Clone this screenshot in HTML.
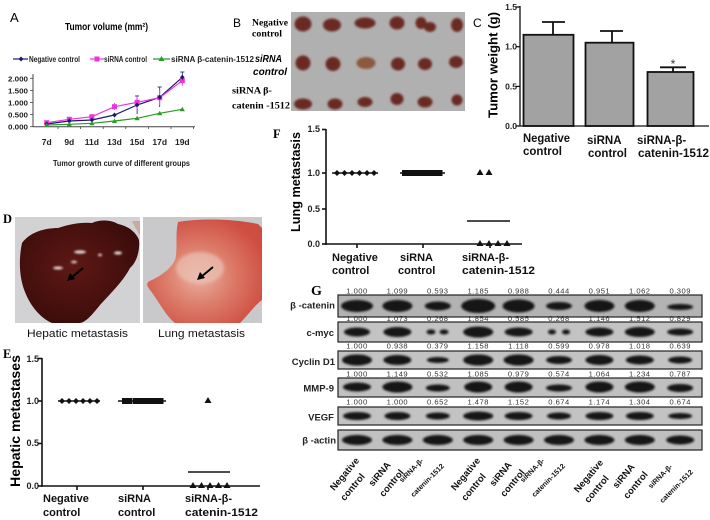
<!DOCTYPE html>
<html><head><meta charset="utf-8"><style>
html,body{margin:0;padding:0;background:#fff;}
svg{display:block;}
text{font-family:"Liberation Sans",Arial,sans-serif;}
.b{font-weight:bold;}
.sf{font-family:"Liberation Serif","Times New Roman",serif;font-weight:bold;}
</style></head><body>
<svg width="710" height="520" viewBox="0 0 710 520" xmlns="http://www.w3.org/2000/svg">
<defs>
<filter id="bl" x="-30%" y="-60%" width="160%" height="220%"><feGaussianBlur stdDeviation="1.1"/></filter>
<filter id="bl2" x="-30%" y="-30%" width="160%" height="160%"><feGaussianBlur stdDeviation="1.6"/></filter>
<radialGradient id="liv" cx="45%" cy="45%" r="60%"><stop offset="0" stop-color="#5e1814"/><stop offset="1" stop-color="#3a0c0a"/></radialGradient>
<radialGradient id="lun" cx="45%" cy="55%" r="60%"><stop offset="0" stop-color="#e9b0a0"/><stop offset="0.5" stop-color="#dc7a68"/><stop offset="1" stop-color="#cf4e42"/></radialGradient>
</defs>
<rect width="710" height="520" fill="#fff"/>

<!-- ========== Panel A ========== -->
<text x="10" y="22" font-size="13">A</text>
<text x="65" y="30" font-size="10" class="b" textLength="83" lengthAdjust="spacingAndGlyphs">Tumor volume (mm²)</text>
<!-- legend -->
<line x1="13" y1="59" x2="28" y2="59" stroke="#1a1a70" stroke-width="1.2"/>
<path d="M21,56.5 L23.5,59 L21,61.5 L18.5,59Z" fill="#1a1a70"/>
<text x="29" y="62" font-size="8" class="b" textLength="51" lengthAdjust="spacingAndGlyphs" fill="#222">Negative control</text>
<line x1="90" y1="59" x2="104" y2="59" stroke="#ee33dd" stroke-width="1.2"/>
<rect x="94.5" y="56.5" width="5" height="5" fill="#ee33dd"/>
<text x="104" y="62" font-size="8" class="b" textLength="43" lengthAdjust="spacingAndGlyphs" fill="#222">siRNA control</text>
<line x1="153" y1="59" x2="170" y2="59" stroke="#2a9a2a" stroke-width="1.2"/>
<path d="M161.5,56 L164.5,61 L158.5,61Z" fill="#2a9a2a"/>
<text x="171" y="62" font-size="8" class="b" textLength="83" lengthAdjust="spacingAndGlyphs" fill="#222">siRNA β-catenin-1512</text>
<!-- axes -->
<line x1="33" y1="74" x2="33" y2="127" stroke="#444" stroke-width="1"/>
<line x1="33" y1="126.7" x2="195" y2="126.7" stroke="#444" stroke-width="1"/>
<g stroke="#444" stroke-width="0.8">
<line x1="30" y1="78.3" x2="33" y2="78.3"/><line x1="30" y1="90.4" x2="33" y2="90.4"/><line x1="30" y1="102.5" x2="33" y2="102.5"/><line x1="30" y1="114.6" x2="33" y2="114.6"/><line x1="30" y1="126.7" x2="33" y2="126.7"/>
<line x1="58" y1="126.7" x2="58" y2="129"/><line x1="80.6" y1="126.7" x2="80.6" y2="129"/><line x1="103.2" y1="126.7" x2="103.2" y2="129"/><line x1="125.8" y1="126.7" x2="125.8" y2="129"/><line x1="148.4" y1="126.7" x2="148.4" y2="129"/><line x1="171" y1="126.7" x2="171" y2="129"/><line x1="193.6" y1="126.7" x2="193.6" y2="129"/>
</g>
<g font-size="7.5" class="b" text-anchor="end" fill="#222">
<text x="28" y="81.3" textLength="20" lengthAdjust="spacingAndGlyphs">2.000</text>
<text x="28" y="93.4" textLength="20" lengthAdjust="spacingAndGlyphs">1.500</text>
<text x="28" y="105.5" textLength="20" lengthAdjust="spacingAndGlyphs">1.000</text>
<text x="28" y="117.6" textLength="20" lengthAdjust="spacingAndGlyphs">0.500</text>
<text x="28" y="129.7" textLength="20" lengthAdjust="spacingAndGlyphs">0.000</text>
</g>
<g font-size="8.5" class="b" text-anchor="middle" fill="#222">
<text x="46.7" y="145">7d</text><text x="69.3" y="145">9d</text><text x="91.9" y="145">11d</text><text x="114.5" y="145">13d</text><text x="137.1" y="145">15d</text><text x="159.7" y="145">17d</text><text x="182.3" y="145">19d</text>
</g>
<text x="53" y="166" font-size="8.5" class="b" textLength="137" lengthAdjust="spacingAndGlyphs" fill="#222">Tumor growth curve of different groups</text>
<!-- error bars -->
<g stroke-width="0.8">
<g stroke="#1a1a70"><line x1="137.1" y1="96" x2="137.1" y2="114"/><line x1="159.7" y1="87" x2="159.7" y2="107"/><line x1="182.3" y1="72" x2="182.3" y2="83"/><line x1="135" y1="96" x2="139" y2="96"/><line x1="157.6" y1="87" x2="161.8" y2="87"/><line x1="180.2" y1="72" x2="184.4" y2="72"/></g>
<g stroke="#ee33dd"><line x1="114.5" y1="103" x2="114.5" y2="110"/><line x1="137.1" y1="95" x2="137.1" y2="109"/><line x1="159.7" y1="90" x2="159.7" y2="105"/><line x1="182.3" y1="76" x2="182.3" y2="86"/></g>
</g>
<!-- series -->
<polyline points="46.7,124 69.3,121 91.9,120 114.5,115 137.1,105 159.7,97.3 182.3,77.3" fill="none" stroke="#1a1a70" stroke-width="1.2"/>
<polyline points="46.7,122.7 69.3,119.3 91.9,116.7 114.5,106.7 137.1,102.3 159.7,97.7 182.3,80.7" fill="none" stroke="#ee33dd" stroke-width="1.2"/>
<polyline points="46.7,125 69.3,124.3 91.9,123.3 114.5,121 137.1,118.3 159.7,113.3 182.3,109.3" fill="none" stroke="#2a9a2a" stroke-width="1.2"/>
<g fill="#ee33dd">
<rect x="44.2" y="120.2" width="5" height="5"/><rect x="66.8" y="116.8" width="5" height="5"/><rect x="89.4" y="114.2" width="5" height="5"/><rect x="112" y="104.2" width="5" height="5"/><rect x="134.6" y="99.8" width="5" height="5"/><rect x="157.2" y="95.2" width="5" height="5"/><rect x="179.8" y="78.2" width="5" height="5"/>
</g>
<g fill="#1a1a70">
<path d="M46.7,121.5 l2.3,2.5 l-2.3,2.5 l-2.3,-2.5Z"/><path d="M69.3,118.5 l2.3,2.5 l-2.3,2.5 l-2.3,-2.5Z"/><path d="M91.9,117.5 l2.3,2.5 l-2.3,2.5 l-2.3,-2.5Z"/><path d="M114.5,112.5 l2.3,2.5 l-2.3,2.5 l-2.3,-2.5Z"/><path d="M137.1,102.5 l2.3,2.5 l-2.3,2.5 l-2.3,-2.5Z"/><path d="M159.7,94.8 l2.3,2.5 l-2.3,2.5 l-2.3,-2.5Z"/><path d="M182.3,74.8 l2.3,2.5 l-2.3,2.5 l-2.3,-2.5Z"/>
</g>
<g fill="#2a9a2a">
<path d="M46.7,122.5 l2.6,4.5 h-5.2Z"/><path d="M69.3,121.8 l2.6,4.5 h-5.2Z"/><path d="M91.9,120.8 l2.6,4.5 h-5.2Z"/><path d="M114.5,118.5 l2.6,4.5 h-5.2Z"/><path d="M137.1,115.8 l2.6,4.5 h-5.2Z"/><path d="M159.7,110.8 l2.6,4.5 h-5.2Z"/><path d="M182.3,106.8 l2.6,4.5 h-5.2Z"/>
</g>

<!-- ========== Panel B ========== -->
<text x="233" y="27" font-size="12">B</text>
<text x="252" y="25.5" font-size="9.7" class="sf" textLength="36" lengthAdjust="spacingAndGlyphs">Negative</text>
<text x="252" y="36.5" font-size="9.7" class="sf" textLength="30" lengthAdjust="spacingAndGlyphs">control</text>
<text x="255" y="62" font-size="10" class="b" font-style="italic" textLength="27" lengthAdjust="spacingAndGlyphs">siRNA</text>
<text x="253" y="75" font-size="10" class="b" font-style="italic" textLength="34" lengthAdjust="spacingAndGlyphs">control</text>
<text x="232" y="93.5" font-size="9.5" class="sf" textLength="40" lengthAdjust="spacingAndGlyphs">siRNA β-</text>
<text x="232" y="108.5" font-size="9.5" class="sf" textLength="58" lengthAdjust="spacingAndGlyphs">catenin -1512</text>
<rect x="291" y="12" width="174" height="99" fill="#b1b0b0"/>
<g fill="#6a2a22" filter="url(#bl)">
<ellipse cx="303" cy="24" rx="8.5" ry="7.5"/><ellipse cx="332" cy="25" rx="9" ry="6.5"/><ellipse cx="365" cy="23" rx="10.5" ry="5.5"/><ellipse cx="397" cy="23" rx="7.5" ry="6.5"/><ellipse cx="421" cy="23" rx="5.5" ry="6"/><ellipse cx="430" cy="27" rx="6" ry="5"/><ellipse cx="457" cy="25" rx="6" ry="7"/>
<ellipse cx="303" cy="63" rx="7.5" ry="7.5"/><ellipse cx="333" cy="64" rx="7.5" ry="7"/><ellipse cx="366" cy="63" rx="9.5" ry="6" fill="#8a5a3e"/><ellipse cx="398" cy="64" rx="7" ry="6.5"/><ellipse cx="425" cy="64" rx="7" ry="6"/><ellipse cx="456" cy="62" rx="7" ry="6"/>
<ellipse cx="303" cy="104" rx="9" ry="5.5"/><ellipse cx="335" cy="104" rx="7.5" ry="5.5"/><ellipse cx="365" cy="102" rx="7.5" ry="5"/><ellipse cx="397" cy="99" rx="6.5" ry="6"/><ellipse cx="425" cy="102" rx="7.5" ry="5.5"/><ellipse cx="457" cy="100" rx="5.5" ry="5.5"/>
</g>

<!-- ========== Panel C ========== -->
<text x="473" y="27" font-size="12">C</text>
<text transform="translate(497.5,65) rotate(-90)" font-size="13" class="b" text-anchor="middle" textLength="106" lengthAdjust="spacingAndGlyphs">Tumor weight (g)</text>
<g font-size="8.5" class="b" text-anchor="end" fill="#222">
<text x="517" y="10">1.5</text><text x="517" y="49.7">1.0</text><text x="517" y="89.4">0.5</text><text x="517" y="129">0.0</text>
</g>
<g stroke="#111" stroke-width="1.3">
<line x1="520" y1="6" x2="520" y2="126.5"/><line x1="520" y1="126" x2="709" y2="126"/>
<line x1="516" y1="7" x2="520" y2="7"/><line x1="516" y1="46.7" x2="520" y2="46.7"/><line x1="516" y1="86.4" x2="520" y2="86.4"/><line x1="516" y1="126" x2="520" y2="126"/>
</g>
<g fill="#a2a2a2" stroke="#111" stroke-width="1.8">
<rect x="523.5" y="34.8" width="50" height="91.2"/><rect x="585.5" y="42.7" width="48" height="83.3"/><rect x="647.5" y="72" width="46" height="54"/>
</g>
<g stroke="#111" stroke-width="1.8">
<line x1="553" y1="34.8" x2="553" y2="22"/><line x1="542" y1="22" x2="565" y2="22"/>
<line x1="612" y1="42.7" x2="612" y2="31"/><line x1="600" y1="31" x2="623" y2="31"/>
<line x1="673" y1="72" x2="673" y2="67.3"/><line x1="660" y1="67.3" x2="686" y2="67.3"/>
</g>
<text x="673" y="68" font-size="12" text-anchor="middle" fill="#333">*</text>
<g font-size="11.5" class="b" fill="#111">
<text x="523" y="142" textLength="47" lengthAdjust="spacingAndGlyphs">Negative</text><text x="523" y="155">control</text>
<text x="587" y="144">siRNA</text><text x="588" y="157">control</text>
<text x="637" y="144">siRNA-β-</text><text x="638" y="157" textLength="71" lengthAdjust="spacingAndGlyphs">catenin-1512</text>
</g>

<!-- ========== Panel D ========== -->
<text x="3" y="223" font-size="12.5" class="sf">D</text>
<rect x="15" y="217" width="125" height="106" fill="#d2d2d5"/>
<path d="M22,243 C30,232 45,228 58,228 C70,224 82,222 92,223 C100,219 112,220 118,224 C128,226 136,232 139,240 C140,250 137,262 130,268 C124,280 112,292 100,305 C92,315 86,322 80,323 L52,323 C40,318 30,305 25,292 C20,280 18,262 22,243 Z" fill="url(#liv)"/>
<path d="M132,221 L140,221 L140,236 C137,230 134,226 132,221Z" fill="#c9a9a0"/>
<g fill="#f4f0f0" filter="url(#bl)" opacity="0.9">
<ellipse cx="80" cy="252" rx="6" ry="1.6"/><ellipse cx="118" cy="253" rx="4" ry="1.6"/><ellipse cx="100" cy="255" rx="2" ry="1.2"/><ellipse cx="58" cy="268" rx="5" ry="1.5"/><ellipse cx="74" cy="262" rx="3" ry="1.2"/>
</g>
<line x1="83" y1="268" x2="71" y2="278" stroke="#000" stroke-width="2"/>
<path d="M67,281 L70,273 L75,279Z" fill="#000"/>
<rect x="143" y="217" width="119" height="106" fill="#c9c9cc"/>
<path d="M178,222 C200,218 235,219 258,224 L262,228 L262,300 C255,305 248,315 240,323 L175,323 C165,315 158,300 150,290 C146,285 146,282 152,280 C160,276 170,270 175,260 C178,250 175,235 178,222 Z" fill="url(#lun)"/>
<ellipse cx="200" cy="268" rx="24" ry="16" fill="#ecc2b4" opacity="0.7" filter="url(#bl2)"/>
<line x1="213" y1="267" x2="201" y2="277" stroke="#000" stroke-width="2"/>
<path d="M197,280 L200,272 L205,278Z" fill="#000"/>
<text x="27" y="337" font-size="11" textLength="101" lengthAdjust="spacingAndGlyphs" fill="#111">Hepatic metastasis</text>
<text x="158" y="337" font-size="11" textLength="87" lengthAdjust="spacingAndGlyphs" fill="#111">Lung metastasis</text>

<!-- ========== Panel E ========== -->
<text x="3" y="358" font-size="12.5" class="sf">E</text>
<text transform="translate(20,421) rotate(-90)" font-size="13.6" class="b" text-anchor="middle" textLength="132" lengthAdjust="spacingAndGlyphs">Hepatic metastases</text>
<g font-size="9" class="b" text-anchor="end" fill="#222">
<text x="39" y="362">1.5</text><text x="39" y="404">1.0</text><text x="39" y="446">0.5</text><text x="39" y="489">0.0</text>
</g>
<g stroke="#111" stroke-width="1.6">
<line x1="42" y1="358" x2="42" y2="486.8"/><line x1="41.2" y1="486" x2="260" y2="486"/>
<line x1="38" y1="358.5" x2="42" y2="358.5"/><line x1="38" y1="401" x2="42" y2="401"/><line x1="38" y1="443.5" x2="42" y2="443.5"/><line x1="38" y1="486" x2="42" y2="486"/>
<line x1="77" y1="486" x2="77" y2="490"/><line x1="143" y1="486" x2="143" y2="490"/><line x1="208" y1="486" x2="208" y2="490"/>
</g>
<g stroke="#111" stroke-width="1.5"><line x1="58" y1="401" x2="100" y2="401"/><line x1="118" y1="401" x2="166" y2="401"/><line x1="188" y1="472" x2="230" y2="472"/></g>
<g fill="#111">
<path d="M62,398 l3,3 l-3,3 l-3,-3Z"/><path d="M69,398 l3,3 l-3,3 l-3,-3Z"/><path d="M76,398 l3,3 l-3,3 l-3,-3Z"/><path d="M83,398 l3,3 l-3,3 l-3,-3Z"/><path d="M90,398 l3,3 l-3,3 l-3,-3Z"/><path d="M97,398 l3,3 l-3,3 l-3,-3Z"/>
<rect x="122" y="398" width="5.5" height="6"/><rect x="127" y="398" width="5.5" height="6"/><rect x="133" y="398" width="5.5" height="6"/><rect x="138" y="398" width="5.5" height="6"/><rect x="143" y="398" width="5.5" height="6"/><rect x="148" y="398" width="5.5" height="6"/><rect x="153" y="398" width="5.5" height="6"/><rect x="158" y="398" width="5.5" height="6"/>
<path d="M208,397 l3.5,6 h-7Z"/>
<path d="M193,482 l3.5,6 h-7Z"/><path d="M201.5,482 l3.5,6 h-7Z"/><path d="M210,482 l3.5,6 h-7Z"/><path d="M218.5,482 l3.5,6 h-7Z"/><path d="M227,482 l3.5,6 h-7Z"/>
</g>
<g font-size="11" class="b" fill="#111">
<text x="43" y="502">Negative</text><text x="43" y="516">control</text>
<text x="118" y="502">siRNA</text><text x="118" y="516">control</text>
<text x="185" y="502">siRNA-β-</text><text x="185" y="516" textLength="73" lengthAdjust="spacingAndGlyphs">catenin-1512</text>
</g>

<!-- ========== Panel F ========== -->
<text x="273" y="138" font-size="12.5" class="sf">F</text>
<text transform="translate(300,182) rotate(-90)" font-size="12.5" class="b" text-anchor="middle" textLength="100" lengthAdjust="spacingAndGlyphs">Lung metastasis</text>
<g font-size="9" class="b" text-anchor="end" fill="#222">
<text x="320" y="132">1.5</text><text x="320" y="176">1.0</text><text x="320" y="212">0.5</text><text x="320" y="247">0.0</text>
</g>
<g stroke="#111" stroke-width="1.6">
<line x1="326" y1="129" x2="326" y2="244.8"/><line x1="325.2" y1="244" x2="522" y2="244"/>
<line x1="322" y1="129.5" x2="326" y2="129.5"/><line x1="322" y1="173" x2="326" y2="173"/><line x1="322" y1="209" x2="326" y2="209"/><line x1="322" y1="244" x2="326" y2="244"/>
<line x1="357" y1="244" x2="357" y2="248"/><line x1="423" y1="244" x2="423" y2="248"/><line x1="490" y1="244" x2="490" y2="248"/>
</g>
<g stroke="#111" stroke-width="1.5"><line x1="332" y1="173" x2="378" y2="173"/><line x1="400" y1="173" x2="445" y2="173"/><line x1="467" y1="221" x2="510" y2="221"/></g>
<g fill="#111">
<path d="M337,170 l3,3 l-3,3 l-3,-3Z"/><path d="M344.5,170 l3,3 l-3,3 l-3,-3Z"/><path d="M352,170 l3,3 l-3,3 l-3,-3Z"/><path d="M359.5,170 l3,3 l-3,3 l-3,-3Z"/><path d="M367,170 l3,3 l-3,3 l-3,-3Z"/><path d="M374,170 l3,3 l-3,3 l-3,-3Z"/>
<rect x="402" y="170" width="5.5" height="6"/><rect x="407" y="170" width="5.5" height="6"/><rect x="412.5" y="170" width="5.5" height="6"/><rect x="418" y="170" width="5.5" height="6"/><rect x="423" y="170" width="5.5" height="6"/><rect x="428" y="170" width="5.5" height="6"/><rect x="433" y="170" width="5.5" height="6"/><rect x="437" y="170" width="5.5" height="6"/>
<path d="M480,169 l3.5,6 h-7Z"/><path d="M489,169 l3.5,6 h-7Z"/>
<path d="M480,240 l3.5,6 h-7Z"/><path d="M489,240 l3.5,6 h-7Z"/><path d="M498,240 l3.5,6 h-7Z"/><path d="M507,240 l3.5,6 h-7Z"/>
</g>
<g font-size="11" class="b" fill="#111">
<text x="332" y="261">Negative</text><text x="332" y="274">control</text>
<text x="400" y="261">siRNA</text><text x="398" y="274">control</text>
<text x="462" y="261">siRNA-β-</text><text x="462" y="274" textLength="73" lengthAdjust="spacingAndGlyphs">catenin-1512</text>
</g>

<!-- ========== Panel G ========== -->
<text x="311" y="295" font-size="14" class="sf">G</text>
<!-- row boxes -->
<g stroke="#222" stroke-width="1.2">
<rect x="338" y="295" width="364" height="22" fill="#b3b3b3"/>
<rect x="338" y="322" width="364" height="20" fill="#c3c3c3"/>
<rect x="338" y="351" width="364" height="18" fill="#c3c3c3"/>
<rect x="338" y="378" width="364" height="19" fill="#c0c0c0"/>
<rect x="338" y="407" width="364" height="18" fill="#c3c3c3"/>
<rect x="338" y="430" width="364" height="20" fill="#c0c0c0"/>
</g>
<g fill="#141414" filter="url(#bl)">
<!-- row1 y306 -->
<ellipse cx="357" cy="306" rx="16" ry="6"/><ellipse cx="397.4" cy="306" rx="15" ry="6"/><ellipse cx="437.8" cy="306" rx="13" ry="4.5"/><ellipse cx="478.2" cy="306" rx="17" ry="7"/><ellipse cx="518.6" cy="306" rx="16" ry="6.5"/><ellipse cx="559" cy="306" rx="13" ry="4"/><ellipse cx="599.4" cy="306" rx="15" ry="6"/><ellipse cx="639.8" cy="306" rx="15" ry="6"/><ellipse cx="680.2" cy="307" rx="13" ry="3"/>
<!-- row2 y332 -->
<ellipse cx="357" cy="332" rx="13" ry="4.5"/><ellipse cx="397.4" cy="332" rx="14" ry="5"/><ellipse cx="431" cy="332" rx="4.5" ry="2.5"/><ellipse cx="444" cy="332" rx="4.5" ry="2.5"/><ellipse cx="478.2" cy="332" rx="15" ry="5.5"/><ellipse cx="518.6" cy="332" rx="14" ry="4.5"/><ellipse cx="552" cy="332" rx="4" ry="2.5"/><ellipse cx="566" cy="332" rx="4" ry="2.5"/><ellipse cx="599.4" cy="332" rx="14" ry="4.5"/><ellipse cx="639.8" cy="332" rx="15" ry="5"/><ellipse cx="680.2" cy="332" rx="13" ry="3.5"/>
<!-- row3 y360 -->
<ellipse cx="357" cy="360" rx="15" ry="5.5"/><ellipse cx="397.4" cy="360" rx="14" ry="5"/><ellipse cx="437.8" cy="360" rx="11" ry="3"/><ellipse cx="478.2" cy="360" rx="15" ry="5.5"/><ellipse cx="518.6" cy="360" rx="15" ry="5.5"/><ellipse cx="559" cy="360" rx="13" ry="4"/><ellipse cx="599.4" cy="360" rx="14" ry="5"/><ellipse cx="639.8" cy="360" rx="14" ry="4.5"/><ellipse cx="680.2" cy="360" rx="12" ry="3.5"/>
<!-- row4 y387 -->
<ellipse cx="357" cy="387" rx="14" ry="4.5"/><ellipse cx="397.4" cy="387" rx="15" ry="5.5"/><ellipse cx="437.8" cy="388" rx="12" ry="3.5"/><ellipse cx="478.2" cy="387" rx="14" ry="5.5"/><ellipse cx="518.6" cy="387" rx="14" ry="5.5"/><ellipse cx="559" cy="388" rx="13" ry="3.5"/><ellipse cx="599.4" cy="387" rx="14" ry="5.5"/><ellipse cx="639.8" cy="387" rx="15" ry="5.5"/><ellipse cx="680.2" cy="388" rx="13" ry="4"/>
<!-- row5 y416 -->
<ellipse cx="357" cy="416" rx="14" ry="4"/><ellipse cx="397.4" cy="416" rx="13" ry="4"/><ellipse cx="437.8" cy="416" rx="12" ry="3.5"/><ellipse cx="478.2" cy="416" rx="15" ry="4.5"/><ellipse cx="518.6" cy="416" rx="14" ry="4"/><ellipse cx="559" cy="416" rx="12" ry="3.5"/><ellipse cx="599.4" cy="416" rx="14" ry="4"/><ellipse cx="639.8" cy="416" rx="14" ry="4"/><ellipse cx="680.2" cy="416" rx="12" ry="3"/>
<!-- row6 y440 -->
<ellipse cx="357" cy="440" rx="15" ry="5"/><ellipse cx="397.4" cy="440" rx="15" ry="5"/><ellipse cx="437.8" cy="440" rx="15" ry="5"/><ellipse cx="478.2" cy="440" rx="15" ry="5"/><ellipse cx="518.6" cy="440" rx="15" ry="5"/><ellipse cx="559" cy="440" rx="15" ry="5"/><ellipse cx="599.4" cy="440" rx="15" ry="5"/><ellipse cx="639.8" cy="440" rx="15" ry="5"/><ellipse cx="680.2" cy="440" rx="14" ry="4.5"/>
</g>
<!-- numbers -->
<g font-size="7.6" text-anchor="middle" fill="#333" letter-spacing="0.5">
<text x="357" y="293.5">1.000</text><text x="397.4" y="293.5">1.099</text><text x="437.8" y="293.5">0.593</text><text x="478.2" y="293.5">1.185</text><text x="518.6" y="293.5">0.988</text><text x="559" y="293.5">0.444</text><text x="599.4" y="293.5">0.951</text><text x="639.8" y="293.5">1.062</text><text x="680.2" y="293.5">0.309</text>
<text x="357" y="321">1.000</text><text x="397.4" y="321">1.073</text><text x="437.8" y="321">0.268</text><text x="478.2" y="321">1.854</text><text x="518.6" y="321">0.585</text><text x="559" y="321">0.268</text><text x="599.4" y="321">1.146</text><text x="639.8" y="321">1.512</text><text x="680.2" y="321">0.829</text>
<text x="357" y="348.5">1.000</text><text x="397.4" y="348.5">0.938</text><text x="437.8" y="348.5">0.379</text><text x="478.2" y="348.5">1.158</text><text x="518.6" y="348.5">1.118</text><text x="559" y="348.5">0.599</text><text x="599.4" y="348.5">0.978</text><text x="639.8" y="348.5">1.018</text><text x="680.2" y="348.5">0.639</text>
<text x="357" y="376.5">1.000</text><text x="397.4" y="376.5">1.149</text><text x="437.8" y="376.5">0.532</text><text x="478.2" y="376.5">1.085</text><text x="518.6" y="376.5">0.979</text><text x="559" y="376.5">0.574</text><text x="599.4" y="376.5">1.064</text><text x="639.8" y="376.5">1.234</text><text x="680.2" y="376.5">0.787</text>
<text x="357" y="404.5">1.000</text><text x="397.4" y="404.5">1.000</text><text x="437.8" y="404.5">0.652</text><text x="478.2" y="404.5">1.478</text><text x="518.6" y="404.5">1.152</text><text x="559" y="404.5">0.674</text><text x="599.4" y="404.5">1.174</text><text x="639.8" y="404.5">1.304</text><text x="680.2" y="404.5">0.674</text>
</g>
<!-- row labels -->
<g font-size="9.5" class="b" text-anchor="end" fill="#222">
<text x="335" y="308.5">β -catenin</text>
<text x="334" y="336">c-myc</text>
<text x="335" y="365">Cyclin D1</text>
<text x="334" y="391.5">MMP-9</text>
<text x="334" y="420.5">VEGF</text>
<text x="336" y="443.5">β -actin</text>
</g>
<!-- rotated lane labels -->
<g class="b" text-anchor="middle" fill="#111">
<g font-size="9.5">
<text transform="translate(347,476) rotate(-50)">Negative</text>
<text transform="translate(355,489) rotate(-50)">control</text>
<text transform="translate(382,476) rotate(-50)">siRNA</text>
<text transform="translate(394,485) rotate(-50)">control</text>
<text transform="translate(468,476) rotate(-50)">Negative</text>
<text transform="translate(476,489) rotate(-50)">control</text>
<text transform="translate(503,476) rotate(-50)">siRNA</text>
<text transform="translate(515,485) rotate(-50)">control</text>
<text transform="translate(591,478) rotate(-50)">Negative</text>
<text transform="translate(599,491) rotate(-50)">control</text>
<text transform="translate(626,478) rotate(-50)">siRNA</text>
<text transform="translate(638,487) rotate(-50)">control</text>
</g>
<g font-size="7.2">
<text transform="translate(413,472) rotate(-45)">siRNA-β-</text>
<text transform="translate(429,482) rotate(-45)">catenin-1512</text>
<text transform="translate(534,472) rotate(-45)">siRNA-β-</text>
<text transform="translate(550,482) rotate(-45)">catenin-1512</text>
<text transform="translate(662,478) rotate(-45)">siRNA-β-</text>
<text transform="translate(678,488) rotate(-45)">catenin-1512</text>
</g>
</g>
</svg>
</body></html>
